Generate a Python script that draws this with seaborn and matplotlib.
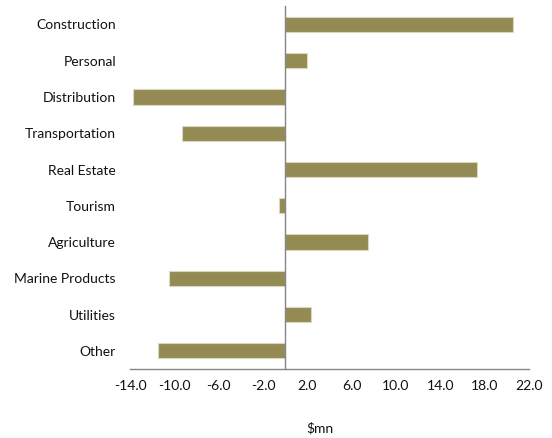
import matplotlib
matplotlib.use("Agg")
import matplotlib.pyplot as plt
import matplotlib.transforms as mtransforms
import seaborn as sns
import pandas as pd
import numpy as np

categories = ["Construction", "Personal", "Distribution", "Transportation", "Real Estate",
              "Tourism", "Agriculture", "Marine Products", "Utilities", "Other"]
values = [20.6, 2.0, -13.7, -9.3, 17.3, -0.6, 7.5, -10.5, 2.3, -11.5]
xticks = [-14.0, -10.0, -6.0, -2.0, 2.0, 6.0, 10.0, 14.0, 18.0, 22.0]

df = pd.DataFrame({"category": categories, "value": values})

sns.set_theme(style="white")
plt.rcParams['font.family'] = ['Lato', 'DejaVu Sans']

fig = plt.figure(figsize=(5.52, 4.39), dpi=100)
ax = fig.add_axes([130/552, 1-370/439, (529-130)/552, (370-7.3)/439])

sns.barplot(data=df, y="category", x="value", orient="h", color="#948A54",
            saturation=1, width=0.42, edgecolor="#DCD8C0", linewidth=0.8, ax=ax)

n = len(categories)
ax.set_xlim(-14, 22)
ax.set_ylim(n - 0.5, -0.5)
ax.set_xticks(xticks)
ax.set_xticklabels([f"{t:.1f}" for t in xticks], fontsize=10, color="#111111")

# y axis at zero with ticks at category boundaries
for s in ["top", "right"]:
    ax.spines[s].set_visible(False)
ax.spines["left"].set_position(("data", 0))
ax.spines["left"].set_color("#868686")
ax.spines["bottom"].set_color("#868686")
ax.spines["left"].set_linewidth(1.0)
ax.spines["bottom"].set_linewidth(1.0)
ax.set_yticks(np.arange(-0.5, n, 1.0))
ax.set_yticklabels([])
ax.tick_params(axis="y", direction="out", length=3, color="#868686", width=1)
ax.tick_params(axis="x", direction="out", length=4, color="#868686", width=1, pad=3)

trans = mtransforms.blended_transform_factory(ax.transAxes, ax.transData)
offset = mtransforms.ScaledTranslation(-14/100, 0, fig.dpi_scale_trans)
for i, c in enumerate(categories):
    ax.text(0, i, c, transform=trans + offset, ha="right", va="center",
            fontsize=10, color="#111111")

ax.set_ylabel("")
ax.set_xlabel("$mn", fontsize=10, color="#111111")
ax.xaxis.set_label_coords((320-130)/(529-130), -(428-370)/(370-7.3), transform=ax.transAxes)
ax.xaxis.label.set_va("center")

fig.savefig("out.png", dpi=100)
